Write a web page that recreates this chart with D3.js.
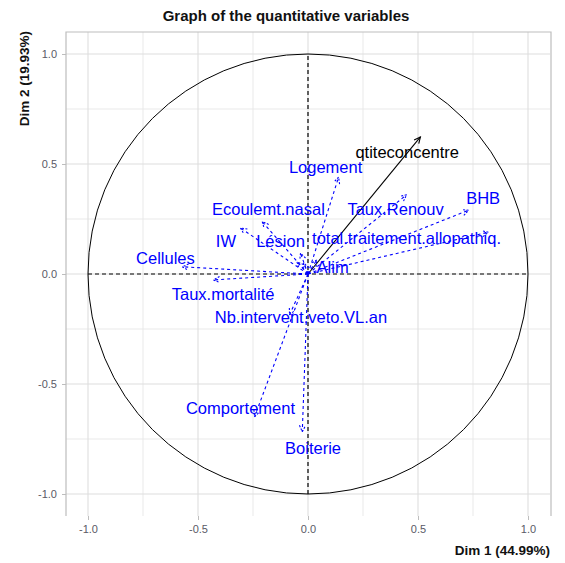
<!DOCTYPE html>
<html><head><meta charset="utf-8">
<script src="https://cdn.jsdelivr.net/npm/d3@7/dist/d3.min.js"></script>
<style>body{margin:0;background:#fff}svg{display:block;font-family:"Liberation Sans",Arial,sans-serif}</style>
</head><body><svg id="c" width="565" height="563"></svg>
<script>
// ---- data ----
const variables = ["qtiteconcentre","BHB","Taux.Renouv","total.traitement.allopathiq.","Logement","Ecoulemt.nasal","IW","Lésion","Cellules","Alim","Taux.mortalité","Nb.intervent.veto.VL.an","Comportement","Boiterie","",""];
const dim1 = [0.511, 0.73, 0.448, 0.82, 0.139, -0.208, -0.307, -0.034, -0.572, 0.04, -0.43, -0.084, -0.243, -0.026, -0.05, -0.02];
const dim2 = [0.623, 0.29, 0.36, 0.19, 0.44, 0.238, 0.209, 0.095, 0.033, 0.064, -0.027, -0.186, -0.649, -0.717, 0.055, 0.05];
const active = [true,false,false,false,false,false,false,false,false,false,false,false,false,false,false,false];
const labelDim1 = [0.451, 0.796, 0.398, 0.448, 0.080, -0.180, -0.373, -0.125, -0.648, 0.112, -0.386, -0.032, -0.307, 0.023, 0, 0];
const labelDim2 = [0.555, 0.345, 0.295, 0.164, 0.488, 0.295, 0.152, 0.152, 0.071, 0.033, -0.092, -0.197, -0.611, -0.792, 0, 0];
const majorTicks = [-1, -0.5, 0, 0.5, 1];
const minorTicks = [-0.75, -0.25, 0.25, 0.75];
const titleText = "Graph of the quantitative variables";
const xTitle = "Dim 1 (44.99%)";
const yTitle = "Dim 2 (19.93%)";

// ---- layout ----
const svg = d3.select("#c");
const L = 66, R = 550, T = 32, B = 516;
const x = d3.scaleLinear().domain([-1.1, 1.1]).range([L, R]);
const y = d3.scaleLinear().domain([-1.1, 1.1]).range([B, T]);

// grid
const g = svg.append("g");
g.selectAll(".vmin").data(minorTicks).join("line")
  .attr("x1", d => x(d)).attr("x2", d => x(d)).attr("y1", T).attr("y2", B)
  .attr("stroke", "#e6e6e6").attr("stroke-width", 0.9);
g.selectAll(".hmin").data(minorTicks).join("line")
  .attr("y1", d => y(d)).attr("y2", d => y(d)).attr("x1", L).attr("x2", R)
  .attr("stroke", "#e6e6e6").attr("stroke-width", 0.9);
g.selectAll(".vmaj").data(majorTicks).join("line")
  .attr("x1", d => x(d)).attr("x2", d => x(d)).attr("y1", T).attr("y2", B)
  .attr("stroke", "#dedede").attr("stroke-width", 1.1);
g.selectAll(".hmaj").data(majorTicks).join("line")
  .attr("y1", d => y(d)).attr("y2", d => y(d)).attr("x1", L).attr("x2", R)
  .attr("stroke", "#dedede").attr("stroke-width", 1.1);
// panel border (top, left, right)
svg.append("path").attr("d", `M${L},${B}V${T}H${R+1}V${B}`)
  .attr("fill", "none").attr("stroke", "#bdbdbd").attr("stroke-width", 1.2);

// axes
const fmt = d => d.toFixed(1);
const xa = svg.append("g").attr("transform", `translate(0,${B})`)
  .call(d3.axisBottom(x).tickValues(majorTicks).tickFormat(fmt).tickSize(4).tickPadding(5));
const ya = svg.append("g").attr("transform", `translate(${L},0)`)
  .call(d3.axisLeft(y).tickValues(majorTicks).tickFormat(fmt).tickSize(4).tickPadding(5));
[xa, ya].forEach(a => {
  a.select(".domain").remove();
  a.selectAll(".tick line").attr("stroke", "#bdbdbd");
  a.selectAll(".tick text").attr("fill", "#5a5a66").attr("font-size", 11)
    .attr("font-family", "'Liberation Sans',Arial,sans-serif");
});

// circle & dashed axes
svg.append("circle").attr("cx", x(0)).attr("cy", y(0)).attr("r", x(1) - x(0))
  .attr("fill", "none").attr("stroke", "#000").attr("stroke-width", 1);
svg.append("line").attr("x1", x(-1)).attr("x2", x(1)).attr("y1", y(0)).attr("y2", y(0))
  .attr("stroke", "#000").attr("stroke-width", 1.2).attr("stroke-dasharray", "4,3");
svg.append("line").attr("y1", y(-1)).attr("y2", y(1)).attr("x1", x(0)).attr("x2", x(0))
  .attr("stroke", "#000").attr("stroke-width", 1.2).attr("stroke-dasharray", "4,3");

// arrows
const data = variables.map((v, i) => ({name: v, d1: dim1[i], d2: dim2[i], act: active[i], lx: labelDim1[i], ly: labelDim2[i]}));
const ag = svg.append("g");
data.forEach(d => {
  const col = d.act ? "#000" : "#0000ff";
  const dash = d.act ? null : "3,3";
  const x0 = x(0), y0 = y(0), x1 = x(d.d1), y1 = y(d.d2);
  const ang = Math.atan2(y1 - y0, x1 - x0);
  const hl = 7, ha = Math.PI / 7;
  ag.append("line").attr("x1", x0).attr("y1", y0).attr("x2", x1).attr("y2", y1)
    .attr("stroke", col).attr("stroke-width", 1.1).attr("stroke-dasharray", dash);
  const p = `M${x1 - hl*Math.cos(ang - ha)},${y1 - hl*Math.sin(ang - ha)}L${x1},${y1}L${x1 - hl*Math.cos(ang + ha)},${y1 - hl*Math.sin(ang + ha)}`;
  ag.append("path").attr("d", p).attr("fill", "none").attr("stroke", col)
    .attr("stroke-width", 1.1).attr("stroke-dasharray", d.act ? null : "2,1.5");
});
// labels
svg.append("g").selectAll("text").data(data.filter(d => d.name !== "")).join("text")
  .attr("x", d => x(d.lx)).attr("y", d => y(d.ly)).attr("dy", "0.36em")
  .attr("text-anchor", "middle").attr("font-size", 16.5)
  .attr("fill", d => d.act ? "#000" : "#0000ff").text(d => d.name);

// titles
svg.append("text").attr("x", 286).attr("y", 21).attr("text-anchor", "middle")
  .attr("font-size", 15).attr("font-weight", "bold").attr("fill", "#111").text(titleText);
svg.append("text").attr("x", R).attr("y", 555).attr("text-anchor", "end")
  .attr("font-size", 13.5).attr("font-weight", "bold").attr("fill", "#111").text(xTitle);
svg.append("text").attr("transform", `translate(29,${T - 1}) rotate(-90)`).attr("text-anchor", "end")
  .attr("font-size", 13.5).attr("font-weight", "bold").attr("fill", "#111").text(yTitle);
</script></body></html>
